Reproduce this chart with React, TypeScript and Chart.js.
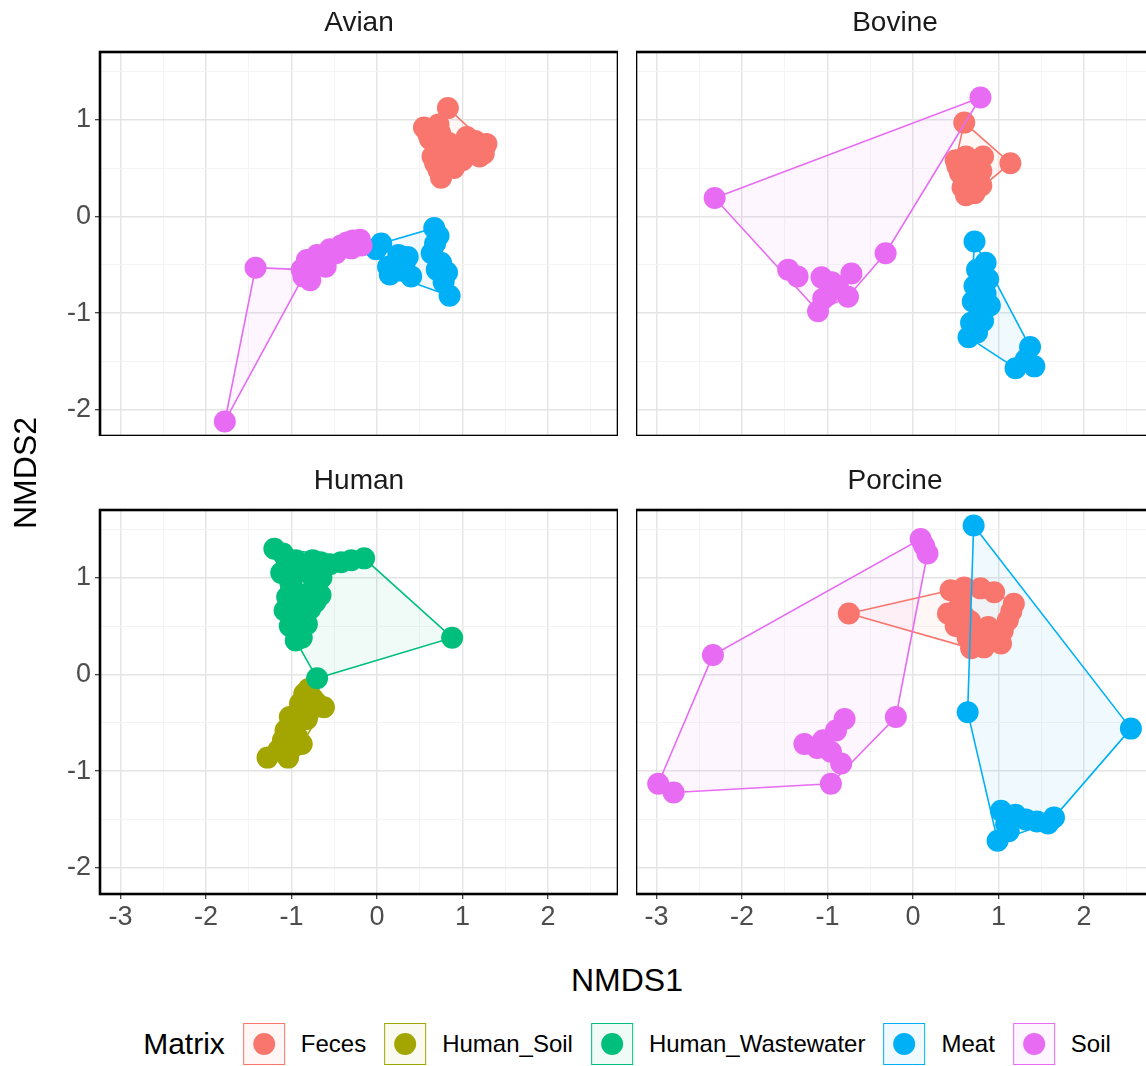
import React, { useEffect, useRef } from "react";
import { Chart, registerables } from "chart.js";

Chart.register(...registerables);

type Pt = [number, number];

// ---------- data ----------
const GROUPS = ["Feces", "Human_Soil", "Human_Wastewater", "Meat", "Soil"];
const GROUP_COLORS = ["#F8766D", "#A3A500", "#00BF7D", "#00B0F6", "#E76BF3"];
const FACETS = ["Avian", "Bovine", "Human", "Porcine"];
const X_TICKS = [-3, -2, -1, 0, 1, 2];
const Y_TICKS = [-2, -1, 0, 1];
const X_RANGE = [-3.24, 2.82];
const Y_RANGE = [-2.27, 1.7];
const X_TITLE = "NMDS1";
const Y_TITLE = "NMDS2";
const LEGEND_TITLE = "Matrix";

const avianFeces: Pt[] = [
  [0.83, 1.12], [0.55, 0.92], [0.62, 0.8], [0.72, 0.95], [1.05, 0.82], [1.28, 0.75],
  [1.2, 0.62], [0.68, 0.55], [0.75, 0.4], [0.9, 0.5], [0.98, 0.66], [1.22, 0.7],
  [0.7, 0.68], [0.84, 0.76], [1.12, 0.7], [0.8, 0.6], [0.6, 0.85], [0.74, 0.86],
  [1.15, 0.78], [1.25, 0.65], [0.72, 0.48], [0.85, 0.55], [1.0, 0.58], [0.65, 0.62],
];
const avianMeat: Pt[] = [
  [0.67, -0.12], [0.68, -0.28], [0.75, -0.48], [0.78, -0.68], [0.85, -0.82], [0.05, -0.28],
  [0.13, -0.52], [0.36, -0.42], [0.4, -0.62], [0.15, -0.6], [-0.01, -0.34], [0.28, -0.56],
  [0.82, -0.58], [0.64, -0.38], [0.25, -0.4], [0.72, -0.2], [0.7, -0.55], [0.32, -0.5],
];
const avianSoil: Pt[] = [
  [-1.42, -0.53], [-1.78, -2.12], [-0.88, -0.55], [-0.86, -0.62], [-0.82, -0.45], [-0.74, -0.5],
  [-0.7, -0.4], [-0.62, -0.44], [-0.55, -0.34], [-0.48, -0.38], [-0.42, -0.3], [-0.35, -0.27],
  [-0.28, -0.25], [-0.2, -0.24], [-0.18, -0.3], [-0.3, -0.33], [-0.6, -0.52], [-0.78, -0.66],
];
const avianSoilHull: Pt[] = [[-1.78, -2.12], [-1.42, -0.53], [-0.88, -0.55], [-0.86, -0.62]];
const bovineFeces: Pt[] = [
  [0.6, 0.97], [1.14, 0.55], [0.5, 0.58], [0.62, 0.62], [0.75, 0.58], [0.55, 0.45],
  [0.68, 0.42], [0.8, 0.47], [0.58, 0.3], [0.72, 0.24], [0.65, 0.52], [0.82, 0.62],
  [0.52, 0.52], [0.8, 0.32], [0.62, 0.22],
];
const bovineMeat: Pt[] = [
  [0.72, -0.26], [0.85, -0.48], [0.75, -0.55], [0.88, -0.65], [0.72, -0.72], [0.85, -0.8],
  [0.7, -0.88], [0.9, -0.92], [0.78, -1.0], [0.68, -1.1], [0.82, -1.08], [0.65, -1.25],
  [0.75, -1.2], [1.37, -1.35], [1.42, -1.55], [1.2, -1.57], [1.32, -1.48],
];
const bovineSoil: Pt[] = [
  [0.79, 1.23], [-2.32, 0.19], [-0.32, -0.38], [-1.46, -0.55], [-1.35, -0.62], [-1.07, -0.63],
  [-0.72, -0.59], [-1.11, -0.98], [-0.99, -0.8], [-0.76, -0.83], [-0.88, -0.72], [-1.05, -0.85],
  [-0.95, -0.68],
];
const humanSoil: Pt[] = [
  [-0.8, -0.15], [-0.62, -0.34], [-1.02, -0.44], [-1.07, -0.58], [-0.93, -0.65], [-1.28, -0.86],
  [-1.04, -0.86], [-0.88, -0.72], [-0.82, -0.46], [-0.9, -0.3], [-0.75, -0.25], [-0.98, -0.75],
  [-1.15, -0.78], [-0.85, -0.2], [-0.95, -0.52], [-1.1, -0.68], [-0.7, -0.3],
];
const humanWastewater: Pt[] = [
  [-1.2, 1.3], [-0.15, 1.2], [-0.42, 1.16], [-0.66, 1.16], [0.88, 0.38], [-0.7, -0.04],
  [-0.95, 0.35], [-1.08, 0.66], [-1.0, 0.95], [-0.8, 1.05], [-0.66, 0.82], [-0.82, 0.52],
  [-0.9, 0.73], [-0.74, 0.9], [-1.05, 1.1], [-0.88, 0.38], [-0.78, 0.68], [-0.95, 0.85],
  [-1.1, 1.25], [-0.95, 1.18], [-0.85, 1.12], [-0.55, 1.14], [-0.3, 1.18], [-1.12, 1.05],
  [-1.05, 0.8], [-1.02, 0.5], [-0.92, 0.45], [-0.85, 0.6], [-0.72, 0.75], [-0.65, 1.0],
  [-0.75, 1.18],
];
const porcineFeces: Pt[] = [
  [-0.75, 0.63], [0.44, 0.87], [0.79, 0.89], [1.18, 0.73], [0.41, 0.63], [0.64, 0.38],
  [0.68, 0.27], [1.03, 0.32], [1.11, 0.56], [0.88, 0.49], [0.83, 0.28], [0.56, 0.8],
  [0.67, 0.55], [1.05, 0.45], [0.55, 0.72], [0.6, 0.9], [0.95, 0.85], [1.15, 0.65],
  [0.75, 0.45], [0.6, 0.6], [0.9, 0.35], [0.5, 0.5],
];
const porcineMeat: Pt[] = [
  [0.71, 1.54], [0.64, -0.39], [2.55, -0.56], [1.03, -1.41], [0.99, -1.72], [1.58, -1.54],
  [1.32, -1.5], [1.09, -1.55], [1.65, -1.48], [1.2, -1.45], [1.12, -1.62], [1.45, -1.52],
];
const porcineSoil: Pt[] = [
  [0.09, 1.4], [0.17, 1.25], [0.13, 1.33], [-2.34, 0.2], [-2.98, -1.13], [-2.8, -1.22],
  [-0.96, -1.13], [-0.2, -0.44], [-0.8, -0.46], [-1.27, -0.72], [-1.05, -0.68], [-0.96, -0.8],
  [-0.84, -0.92], [-1.12, -0.76], [-0.9, -0.58],
];

const FACET_GROUPS: Record<string, Record<string, Pt[]>> = {
  Avian: { Feces: avianFeces, Meat: avianMeat, Soil: avianSoil },
  Bovine: { Feces: bovineFeces, Meat: bovineMeat, Soil: bovineSoil },
  Human: { Human_Soil: humanSoil, Human_Wastewater: humanWastewater },
  Porcine: { Feces: porcineFeces, Meat: porcineMeat, Soil: porcineSoil },
};
// outlines read from the picture where they are not the plain convex hull
const HULL_OVERRIDES: Record<string, Record<string, Pt[]>> = {
  Avian: { Soil: avianSoilHull },
};

// ---------- layout / style ----------
const FONT = '"Liberation Sans", Arial, Helvetica, sans-serif';
const PANEL_W = 518;
const PANEL_H = 384;
const Y_AXIS_W = 70;
const X_AXIS_H = 50;
const TITLE_H = 46;
const TICK_SIZE = 27;
const STRIP_SIZE = 28;
const PANELS = [
  { facet: FACETS[0], left: 100, top: 52, showY: true, showX: false },
  { facet: FACETS[1], left: 636, top: 52, showY: false, showX: false },
  { facet: FACETS[2], left: 100, top: 510, showY: true, showX: true },
  { facet: FACETS[3], left: 636, top: 510, showY: false, showX: true },
];

function rgba(hex: string, a: number) {
  const n = parseInt(hex.slice(1), 16);
  return `rgba(${(n >> 16) & 255},${(n >> 8) & 255},${n & 255},${a})`;
}

function convexHull(points: Pt[]): Pt[] {
  const pts = points.slice().sort((a, b) => a[0] - b[0] || a[1] - b[1]);
  if (pts.length < 3) return pts;
  const cross = (o: Pt, a: Pt, b: Pt) => (a[0] - o[0]) * (b[1] - o[1]) - (a[1] - o[1]) * (b[0] - o[0]);
  const lower: Pt[] = [];
  for (const p of pts) {
    while (lower.length >= 2 && cross(lower[lower.length - 2], lower[lower.length - 1], p) <= 0) lower.pop();
    lower.push(p);
  }
  const upper: Pt[] = [];
  for (let i = pts.length - 1; i >= 0; i--) {
    const p = pts[i];
    while (upper.length >= 2 && cross(upper[upper.length - 2], upper[upper.length - 1], p) <= 0) upper.pop();
    upper.push(p);
  }
  upper.pop();
  lower.pop();
  return lower.concat(upper);
}

function gridValues(min: number, max: number) {
  const out: number[] = [];
  for (let v = Math.ceil(min * 2) / 2; v <= max + 1e-9; v += 0.5) out.push(Math.round(v * 2) / 2);
  return out;
}

const isMajor = (v: any) => typeof v === "number" && Math.abs(v - Math.round(v)) < 1e-9;

const panelBorder = {
  id: "panelBorder",
  afterDraw(chart: any) {
    const { ctx, chartArea: a } = chart;
    ctx.save();
    ctx.strokeStyle = "#000000";
    ctx.lineWidth = 2.6;
    ctx.strokeRect(a.left, a.top, a.right - a.left, a.bottom - a.top);
    ctx.restore();
  },
};

function Facet({ facet, left, top, showY, showX }: any) {
  const ref = useRef<HTMLCanvasElement>(null);
  const yw = showY ? Y_AXIS_W : 0;
  const xh = showX ? X_AXIS_H : 0;
  const width = PANEL_W + yw;
  const height = TITLE_H + PANEL_H + xh;

  useEffect(() => {
    if (!ref.current) return;
    const groups = FACET_GROUPS[facet];
    const overrides = HULL_OVERRIDES[facet] || {};
    const datasets: any[] = [];
    GROUPS.forEach((g, i) => {
      const pts = groups[g];
      if (!pts) return;
      datasets.push({
        label: g,
        data: pts.map(([x, y]) => ({ x, y })),
        backgroundColor: GROUP_COLORS[i],
        borderWidth: 0,
        pointRadius: 11,
        pointHoverRadius: 11,
        order: 100 - i,
        clip: 0,
      });
    });
    GROUPS.forEach((g, i) => {
      const pts = groups[g];
      if (!pts) return;
      const hull = overrides[g] || convexHull(pts);
      const closed = hull.concat([hull[0]]);
      datasets.push({
        label: g + " hull",
        data: closed.map(([x, y]) => ({ x, y })),
        showLine: true,
        fill: "shape",
        tension: 0,
        backgroundColor: rgba(GROUP_COLORS[i], 0.06),
        borderColor: GROUP_COLORS[i],
        borderWidth: 1.6,
        pointRadius: 0,
        pointHoverRadius: 0,
        order: 50 - i,
        clip: 0,
      });
    });

    const xVals = gridValues(X_RANGE[0], X_RANGE[1]);
    const yVals = gridValues(Y_RANGE[0], Y_RANGE[1]);
    const gridOpts = (drawTicks: boolean) => ({
      color: (c: any) => (isMajor(c.tick && c.tick.value) ? "#E4E4E4" : "#F3F3F3"),
      lineWidth: (c: any) => (isMajor(c.tick && c.tick.value) ? 1.4 : 0.9),
      drawTicks,
      tickLength: 5,
      tickWidth: 1.2,
      tickColor: (c: any) => (isMajor(c.tick && c.tick.value) ? "#333333" : "rgba(0,0,0,0)"),
    });

    const chart = new Chart(ref.current, {
      type: "scatter",
      data: { datasets },
      plugins: [panelBorder],
      options: {
        responsive: false,
        animation: false,
        devicePixelRatio: 1,
        events: [],
        layout: { padding: 0, autoPadding: false },
        plugins: {
          legend: { display: false },
          tooltip: { enabled: false },
          filler: { drawTime: "beforeDatasetsDraw" },
          title: {
            display: true,
            text: facet,
            fullSize: false,
            color: "#1A1A1A",
            font: { family: FONT, size: STRIP_SIZE, weight: "normal", lineHeight: 1.2 },
            padding: { top: 0, bottom: TITLE_H - STRIP_SIZE * 1.2 },
          },
        },
        scales: {
          x: {
            type: "linear",
            position: "bottom",
            min: X_RANGE[0],
            max: X_RANGE[1],
            afterBuildTicks: (s: any) => {
              s.ticks = xVals.map((v) => ({ value: v }));
            },
            afterFit: (s: any) => {
              s.height = xh;
              s.paddingLeft = 0;
              s.paddingRight = 0;
              s.paddingTop = 0;
              s.paddingBottom = 0;
            },
            border: { display: false },
            grid: gridOpts(showX),
            ticks: {
              display: showX,
              autoSkip: false,
              maxRotation: 0,
              padding: 2,
              color: "#4D4D4D",
              font: { family: FONT, size: TICK_SIZE },
              callback: (v: any) => (X_TICKS.some((t) => Math.abs(t - v) < 1e-9) ? String(v) : ""),
            },
          },
          y: {
            type: "linear",
            position: "left",
            min: Y_RANGE[0],
            max: Y_RANGE[1],
            afterBuildTicks: (s: any) => {
              s.ticks = yVals.map((v) => ({ value: v }));
            },
            afterFit: (s: any) => {
              s.width = yw;
              s.paddingLeft = 0;
              s.paddingRight = 0;
              s.paddingTop = 0;
              s.paddingBottom = 0;
            },
            border: { display: false },
            grid: gridOpts(showY),
            ticks: {
              display: showY,
              autoSkip: false,
              padding: 4,
              color: "#4D4D4D",
              font: { family: FONT, size: TICK_SIZE },
              callback: (v: any) => (Y_TICKS.some((t) => Math.abs(t - v) < 1e-9) ? String(v) : ""),
            },
          },
        },
      } as any,
    });
    return () => chart.destroy();
  }, [facet, showX, showY]);

  return (
    <canvas
      ref={ref}
      width={width}
      height={height}
      style={{ position: "absolute", left: left - yw, top: top - TITLE_H, width, height }}
    />
  );
}

function LegendKey({ color }: { color: string }) {
  return (
    <div
      style={{
        width: 42,
        height: 42,
        boxSizing: "border-box",
        border: `1.6px solid ${color}`,
        background: rgba(color, 0.06),
        display: "flex",
        alignItems: "center",
        justifyContent: "center",
        flex: "0 0 auto",
      }}
    >
      <div style={{ width: 22, height: 22, borderRadius: "50%", background: color }} />
    </div>
  );
}

export default function App() {
  const centerX = (PANELS[0].left + PANELS[1].left + PANEL_W) / 2;
  const centerY = (PANELS[0].top + PANELS[2].top + PANEL_H) / 2;
  return (
    <div
      style={{
        position: "absolute",
        left: 0,
        top: 0,
        width: 1146,
        height: 1066,
        overflow: "hidden",
        background: "#ffffff",
        fontFamily: FONT,
      }}
    >
      {PANELS.map((p) => (
        <Facet key={p.facet} {...p} />
      ))}
      <div
        style={{
          position: "absolute",
          left: 25,
          top: centerY,
          transform: "translate(-50%, -50%) rotate(-90deg)",
          fontSize: 32,
          color: "#000",
          whiteSpace: "nowrap",
          lineHeight: 1,
        }}
      >
        {Y_TITLE}
      </div>
      <div
        style={{
          position: "absolute",
          left: centerX,
          top: 980,
          transform: "translate(-50%, -50%)",
          fontSize: 32,
          color: "#000",
          whiteSpace: "nowrap",
          lineHeight: 1,
        }}
      >
        {X_TITLE}
      </div>
      <div
        style={{
          position: "absolute",
          left: centerX,
          top: 1044,
          transform: "translate(-50%, -50%)",
          display: "flex",
          alignItems: "center",
          whiteSpace: "nowrap",
          color: "#000",
        }}
      >
        <span style={{ fontSize: 30, marginRight: 18 }}>{LEGEND_TITLE}</span>
        {GROUPS.map((g, i) => (
          <div key={g} style={{ display: "flex", alignItems: "center", marginRight: i < GROUPS.length - 1 ? 18 : 0 }}>
            <LegendKey color={GROUP_COLORS[i]} />
            <span style={{ fontSize: 24, marginLeft: 16 }}>{g}</span>
          </div>
        ))}
      </div>
    </div>
  );
}
